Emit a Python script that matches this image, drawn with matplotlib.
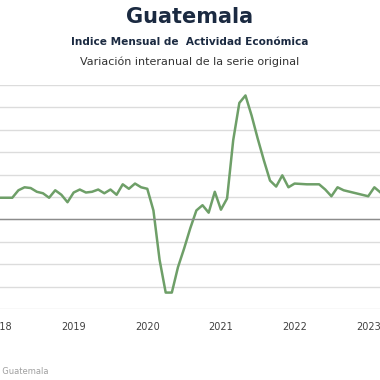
import matplotlib.pyplot as plt
import numpy as np

# IMAE Guatemala, variacion interanual (%), ene-2018 .. mar-2023
start_year = 2018
imae = [2.9, 2.9, 2.9, 3.9, 4.3, 4.2, 3.7, 3.5, 2.9, 3.9, 3.3, 2.3,
        3.6, 4.0, 3.6, 3.7, 4.0, 3.5, 4.0, 3.3, 4.7, 4.1, 4.8, 4.3,
        4.1, 1.2, -5.4, -9.8, -9.8, -6.4, -3.9, -1.2, 1.2, 1.9, 0.9, 3.7,
        1.3, 2.8, 10.6, 15.6, 16.6, 13.9, 10.8, 7.9, 5.2, 4.4, 5.9, 4.3,
        4.8, 4.75, 4.7, 4.7, 4.7, 4.0, 3.1, 4.3, 3.9, 3.7, 3.5, 3.3,
        3.1, 4.3, 3.6]
years = [2018, 2019, 2020, 2021, 2022, 2023]

t = start_year + np.arange(len(imae)) / 12

fig = plt.figure(figsize=(3.8, 3.8), dpi=100)
ax = fig.add_axes([0, 71 / 380, 1, 224 / 380])

ax.plot(t, imae, color='#6e9f68', lw=1.8, solid_joinstyle='round')

ax.set_xlim(2020 - 143 / 75, 2020 + 237 / 75)
ax.set_ylim(-12, 18)
ax.set_yticks(range(-12, 19, 3))
ax.set_yticklabels([])
ax.grid(axis='y', color='#dcdcdc', lw=1)
ax.axhline(0, color='#8c8c8c', lw=1)
ax.set_xticks(years)
ax.set_xticklabels([str(y) for y in years], fontsize=7, color='#404040')
ax.tick_params(length=0, pad=9)
for s in ax.spines.values():
    s.set_visible(False)
ax.set_axisbelow(True)

fig.text(0.5, 1 - 17 / 380, 'Guatemala', ha='center', va='center',
         fontsize=15, fontweight='bold', color='#1b2a41')
fig.text(0.5, 1 - 42 / 380, 'Indice Mensual de  Actividad Económica', ha='center',
         va='center', fontsize=7.6, fontweight='bold', color='#1b2a41')
fig.text(0.5, 1 - 62 / 380, 'Variación interanual de la serie original', ha='center',
         va='center', fontsize=8, color='#333333')
fig.text(48 / 380, 1 - 372 / 380, 'Fuente: Banco de Guatemala', ha='right',
         va='center', fontsize=6, color='#a0a0a0')

plt.savefig('out.png', dpi=100)
